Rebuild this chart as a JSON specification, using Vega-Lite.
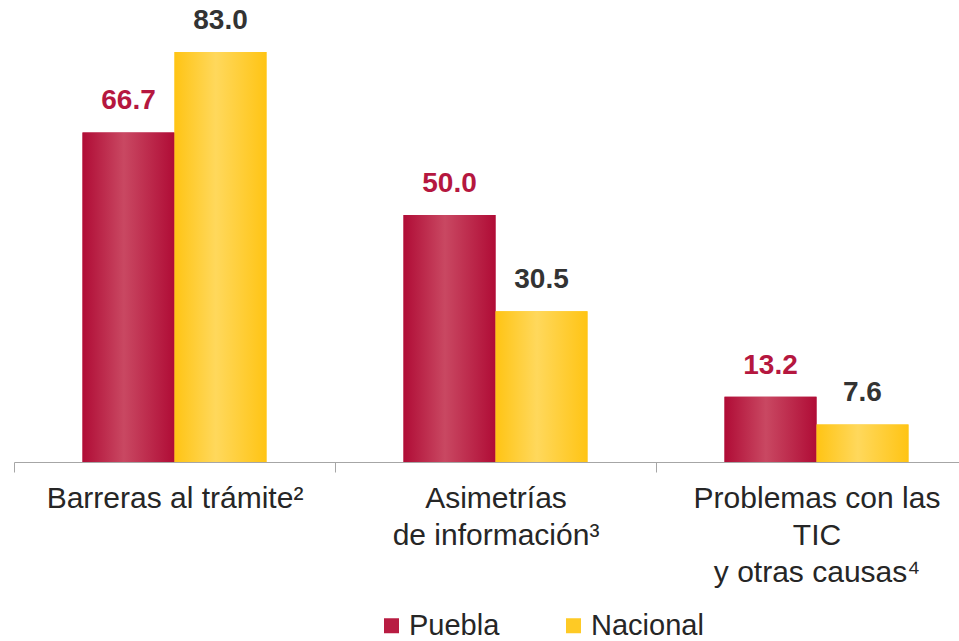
{
  "$schema": "https://vega.github.io/schema/vega-lite/v6.json",
  "width": 945,
  "height": 462,
  "autosize": {"type": "none"},
  "padding": {"left": 14, "top": 0, "right": 0, "bottom": 179},
  "background": "white",
  "config": {"view": {"stroke": null}},
  "data": {
    "values": [
      {"categoria": "Barreras al trámite²", "serie": "Puebla", "valor": 66.7},
      {"categoria": "Barreras al trámite²", "serie": "Nacional", "valor": 83.0},
      {"categoria": "Asimetrías|de información³", "serie": "Puebla", "valor": 50.0},
      {"categoria": "Asimetrías|de información³", "serie": "Nacional", "valor": 30.5},
      {"categoria": "Problemas con las|TIC|y otras causas⁴", "serie": "Puebla", "valor": 13.2},
      {"categoria": "Problemas con las|TIC|y otras causas⁴", "serie": "Nacional", "valor": 7.6}
    ]
  },
  "encoding": {
    "x": {
      "field": "categoria",
      "type": "nominal",
      "sort": null,
      "scale": {"range": [0, 963], "paddingInner": 0, "paddingOuter": 0},
      "axis": {
        "title": null,
        "labelAngle": 0,
        "labelExpr": "split(datum.label, '|')",
        "labelFont": "Liberation Sans",
        "labelFontSize": 30,
        "labelColor": "#262626",
        "labelLineHeight": 37,
        "labelLimit": 0,
        "labelPadding": 11,
        "labelBaseline": "top",
        "tickBand": "extent",
        "tickSize": 10,
        "tickColor": "#a6a6a6",
        "domainColor": "#a6a6a6",
        "grid": false
      }
    },
    "xOffset": {"field": "serie", "type": "nominal", "sort": ["Puebla", "Nacional"], "scale": {"paddingInner": 0, "paddingOuter": 0.745}},
    "y": {
      "field": "valor",
      "type": "quantitative",
      "scale": {"domain": [0, 93.5], "nice": false},
      "axis": null
    }
  },
  "layer": [
    {
      "mark": {"type": "bar"},
      "encoding": {
        "color": {
          "field": "serie",
          "type": "nominal",
          "sort": ["Puebla", "Nacional"],
          "scale": {"domain": ["Puebla", "Nacional"], "range": ["#B81C42", "#FECA25"]},
          "legend": {
            "title": null,
            "orient": "none",
            "legendX": 363,
            "legendY": 611,
            "padding": 0,
            "direction": "horizontal",
            "symbolType": "square",
            "symbolSize": 225,
            "symbolStrokeWidth": 0,
            "labelFont": "Liberation Sans",
            "labelFontSize": 29,
            "labelColor": "#262626",
            "columnPadding": 59,
            "labelOffset": 3
          }
        }
      }
    },
    {
      "mark": {"type": "bar"},
      "encoding": {
        "fill": {
          "condition": {
            "test": "datum.serie === 'Puebla'",
            "value": {"gradient": "linear", "x1": 0, "x2": 1, "y1": 0, "y2": 0, "stops": [{"offset": 0, "color": "#B00C36"}, {"offset": 0.45, "color": "#C94862"}, {"offset": 1, "color": "#B00C36"}]}
          },
          "value": {"gradient": "linear", "x1": 0, "x2": 1, "y1": 0, "y2": 0, "stops": [{"offset": 0, "color": "#FFC414"}, {"offset": 0.45, "color": "#FFD85C"}, {"offset": 1, "color": "#FFC414"}]}
        }
      }
    },
    {
      "mark": {"type": "text", "baseline": "bottom", "dy": -17, "font": "Liberation Sans", "fontSize": 28, "fontWeight": "bold"},
      "encoding": {
        "text": {"field": "valor", "type": "quantitative", "format": ".1f"},
        "color": {
          "condition": {"test": "datum.serie === 'Puebla'", "value": "#B5173F"},
          "value": "#333333"
        }
      }
    }
  ]
}
